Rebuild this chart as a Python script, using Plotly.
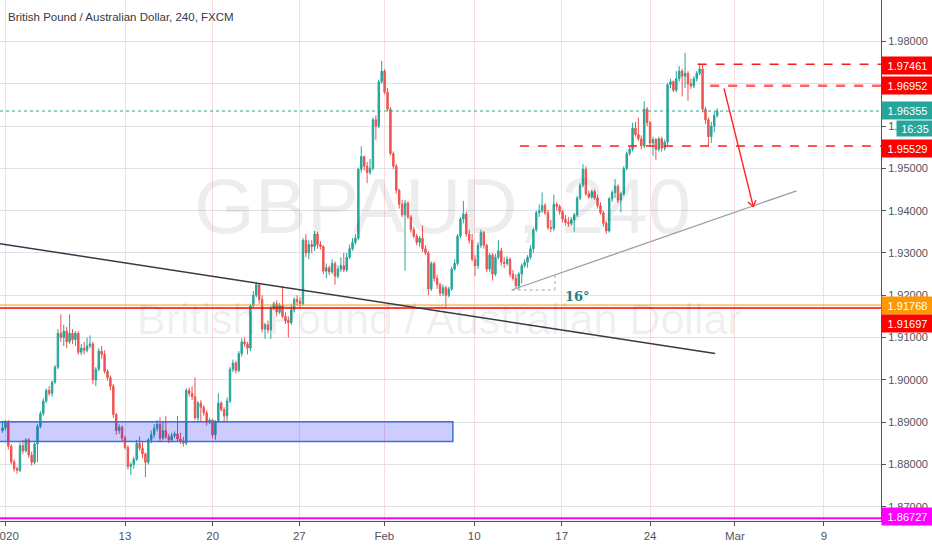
import math
import plotly.graph_objects as go

# ---------------- data (4h candles) ----------------
opens = [1.8880,1.8886,1.8900,1.8843,1.8806,1.8790,1.8786,1.8845,1.8832,1.8858,
1.8822,1.8805,1.8848,1.8890,1.8920,1.8950,1.8975,1.8968,1.8995,1.9030,
1.9110,1.9100,1.9115,1.9090,1.9110,1.9095,1.9110,1.9065,1.9075,1.9070,
1.9080,1.9085,1.9000,1.9025,1.9068,1.9060,1.9020,1.9005,1.8985,1.8918,
1.8880,1.8888,1.8862,1.8840,1.8795,1.8800,1.8812,1.8850,1.8838,1.8825,
1.8805,1.8858,1.8870,1.8885,1.8895,1.8862,1.8880,1.8865,1.8858,1.8868,
1.8872,1.8860,1.8855,1.8850,1.8975,1.8968,1.8960,1.8910,1.8945,1.8935,
1.8922,1.8900,1.8905,1.8870,1.8902,1.8945,1.8930,1.8915,1.8950,1.9025,
1.9040,1.9022,1.9062,1.9090,1.9085,1.9075,1.9175,1.9200,1.9225,1.9190,
1.9120,1.9130,1.9118,1.9170,1.9180,1.9160,1.9175,1.9150,1.9140,1.9135,
1.9165,1.9190,1.9185,1.9180,1.9330,1.9300,1.9320,1.9315,1.9345,1.9320,
1.9315,1.9257,1.9265,1.9255,1.9275,1.9245,1.9262,1.9270,1.9260,1.9290,
1.9310,1.9325,1.9335,1.9498,1.9528,1.9505,1.9490,1.9500,1.9615,1.9600,
1.9705,1.9730,1.9680,1.9640,1.9535,1.9505,1.9448,1.9415,1.9390,1.9418,
1.9385,1.9355,1.9340,1.9325,1.9335,1.9310,1.9300,1.9215,1.9275,1.9240,
1.9225,1.9205,1.9218,1.9200,1.9215,1.9262,1.9275,1.9340,1.9380,1.9392,
1.9345,1.9330,1.9285,1.9270,1.9318,1.9348,1.9318,1.9262,1.9295,1.9250,
1.9290,1.9305,1.9278,1.9275,1.9285,1.9250,1.9240,1.9222,1.9250,1.9270,
1.9278,1.9290,1.9310,1.9355,1.9395,1.9400,1.9412,1.9395,1.9360,1.9358,
1.9415,1.9410,1.9398,1.9380,1.9372,1.9370,1.9378,1.9390,1.9430,1.9460,
1.9498,1.9440,1.9432,1.9445,1.9430,1.9412,1.9395,1.9370,1.9352,1.9428,
1.9443,1.9458,1.9425,1.9440,1.9500,1.9535,1.9545,1.9595,1.9580,1.9570,
1.9553,1.9640,1.9608,1.9560,1.9568,1.9545,1.9570,1.9548,1.9562,1.9698,
1.9705,1.9685,1.9712,1.9730,1.9718,1.9725,1.9700,1.9695,1.9712,1.9725,
1.9735,1.9640,1.9615,1.9575,1.9600,1.9625]
highs = [1.8900,1.8905,1.8905,1.8848,1.8812,1.8795,1.8852,1.8858,1.8862,1.8862,
1.8830,1.8852,1.8895,1.8926,1.8956,1.8980,1.8985,1.8998,1.9035,1.9120,
1.9155,1.9130,1.9125,1.9155,1.9120,1.9115,1.9115,1.9085,1.9090,1.9100,
1.9105,1.9090,1.9030,1.9075,1.9080,1.9070,1.9025,1.9010,1.8990,1.8922,
1.8895,1.8892,1.8868,1.8845,1.8805,1.8818,1.8858,1.8866,1.8855,1.8828,
1.8862,1.8880,1.8895,1.8905,1.8912,1.8900,1.8915,1.8872,1.8875,1.8878,
1.8915,1.8875,1.8865,1.8980,1.8982,1.8985,1.9006,1.8950,1.8952,1.8940,
1.8928,1.8910,1.8908,1.8905,1.8968,1.8950,1.8935,1.8958,1.9030,1.9048,
1.9045,1.9068,1.9098,1.9100,1.9090,1.9180,1.9210,1.9230,1.9228,1.9200,
1.9135,1.9140,1.9175,1.9185,1.9188,1.9182,1.9222,1.9160,1.9150,1.9180,
1.9195,1.9200,1.9195,1.9335,1.9345,1.9330,1.9330,1.9352,1.9350,1.9328,
1.9318,1.9275,1.9270,1.9285,1.9280,1.9270,1.9290,1.9300,1.9300,1.9320,
1.9335,1.9345,1.9502,1.9552,1.9530,1.9515,1.9522,1.9620,1.9625,1.9710,
1.9754,1.9735,1.9690,1.9645,1.9540,1.9510,1.9452,1.9425,1.9425,1.9422,
1.9390,1.9362,1.9345,1.9340,1.9365,1.9318,1.9305,1.9280,1.9280,1.9248,
1.9230,1.9225,1.9222,1.9220,1.9268,1.9285,1.9345,1.9385,1.9423,1.9398,
1.9355,1.9345,1.9295,1.9325,1.9355,1.9352,1.9322,1.9300,1.9300,1.9298,
1.9330,1.9312,1.9290,1.9292,1.9290,1.9260,1.9250,1.9255,1.9275,1.9285,
1.9295,1.9318,1.9360,1.9400,1.9415,1.9443,1.9418,1.9402,1.9378,1.9438,
1.9420,1.9415,1.9402,1.9390,1.9385,1.9385,1.9395,1.9435,1.9465,1.9510,
1.9505,1.9448,1.9450,1.9450,1.9438,1.9420,1.9400,1.9375,1.9432,1.9448,
1.9475,1.9462,1.9445,1.9505,1.9540,1.9552,1.9608,1.9610,1.9620,1.9578,
1.9659,1.9645,1.9612,1.9575,1.9572,1.9575,1.9575,1.9568,1.9702,1.9712,
1.9708,1.9730,1.9742,1.9735,1.9773,1.9730,1.9712,1.9718,1.9730,1.9748,
1.97461,1.9645,1.9620,1.9610,1.9635,1.9642]
lows = [1.8875,1.8880,1.8835,1.8800,1.8783,1.8778,1.8782,1.8825,1.8828,1.8815,
1.8797,1.8800,1.8805,1.8885,1.8915,1.8945,1.8962,1.8960,1.8990,1.9025,
1.9090,1.9080,1.9075,1.9085,1.9085,1.9080,1.9060,1.9058,1.9060,1.9065,
1.9075,1.8990,1.8985,1.9020,1.9050,1.9015,1.8998,1.8975,1.8910,1.8870,
1.8872,1.8855,1.8835,1.8788,1.8775,1.8790,1.8808,1.8832,1.8815,1.8770,
1.8800,1.8850,1.8862,1.8878,1.8855,1.8858,1.8860,1.8850,1.8852,1.8862,
1.8855,1.8848,1.8842,1.8845,1.8960,1.8952,1.8905,1.8900,1.8900,1.8915,
1.8892,1.8895,1.8862,1.8858,1.8898,1.8925,1.8900,1.8900,1.8945,1.9018,
1.9015,1.9018,1.9055,1.9078,1.9060,1.9068,1.9170,1.9195,1.9180,1.9112,
1.9097,1.9110,1.9097,1.9165,1.9150,1.9155,1.9145,1.9132,1.9100,1.9130,
1.9160,1.9175,1.9170,1.9175,1.9290,1.9285,1.9300,1.9305,1.9310,1.9308,
1.9250,1.9240,1.9248,1.9250,1.9225,1.9240,1.9255,1.9255,1.9255,1.9285,
1.9305,1.9320,1.9330,1.9490,1.9495,1.9465,1.9485,1.9495,1.9568,1.9595,
1.9700,1.9675,1.9635,1.9530,1.9498,1.9440,1.9405,1.9385,1.9258,1.9380,
1.9348,1.9335,1.9318,1.9315,1.9302,1.9295,1.9200,1.9210,1.9232,1.9215,
1.9198,1.9198,1.9168,1.9195,1.9210,1.9258,1.9270,1.9335,1.9370,1.9338,
1.9322,1.9280,1.9245,1.9262,1.9312,1.9310,1.9255,1.9255,1.9235,1.9245,
1.9285,1.9270,1.9265,1.9270,1.9243,1.9235,1.9215,1.9213,1.9228,1.9265,
1.9265,1.9285,1.9300,1.9350,1.9385,1.9395,1.9390,1.9355,1.9350,1.9352,
1.9400,1.9390,1.9372,1.9365,1.9362,1.9365,1.9350,1.9385,1.9425,1.9455,
1.9435,1.9428,1.9428,1.9425,1.9405,1.9390,1.9362,1.9345,1.9348,1.9420,
1.9430,1.9418,1.9396,1.9435,1.9495,1.9530,1.9540,1.9575,1.9565,1.9545,
1.9548,1.9600,1.9553,1.9530,1.9520,1.9540,1.9540,1.9542,1.9555,1.9690,
1.9680,1.9680,1.9705,1.9670,1.9690,1.9660,1.9688,1.9690,1.9705,1.9720,
1.9632,1.9605,1.9553,1.9560,1.9585,1.9620]
closes = [1.8886,1.8900,1.8843,1.8806,1.8790,1.8786,1.8845,1.8832,1.8858,1.8822,
1.8805,1.8848,1.8890,1.8920,1.8950,1.8975,1.8968,1.8995,1.9030,1.9110,
1.9100,1.9115,1.9090,1.9110,1.9095,1.9110,1.9065,1.9075,1.9070,1.9080,
1.9085,1.9000,1.9025,1.9068,1.9060,1.9020,1.9005,1.8985,1.8918,1.8880,
1.8888,1.8862,1.8840,1.8795,1.8800,1.8812,1.8850,1.8838,1.8825,1.8805,
1.8858,1.8870,1.8885,1.8895,1.8862,1.8880,1.8865,1.8858,1.8868,1.8872,
1.8860,1.8855,1.8850,1.8975,1.8968,1.8960,1.8910,1.8945,1.8935,1.8922,
1.8900,1.8905,1.8870,1.8902,1.8945,1.8930,1.8915,1.8950,1.9025,1.9040,
1.9022,1.9062,1.9090,1.9085,1.9075,1.9175,1.9200,1.9225,1.9190,1.9120,
1.9130,1.9118,1.9170,1.9180,1.9160,1.9175,1.9150,1.9140,1.9135,1.9165,
1.9190,1.9185,1.9180,1.9330,1.9300,1.9320,1.9315,1.9345,1.9320,1.9315,
1.9257,1.9265,1.9255,1.9275,1.9245,1.9262,1.9270,1.9260,1.9290,1.9310,
1.9325,1.9335,1.9498,1.9528,1.9505,1.9490,1.9500,1.9615,1.9600,1.9705,
1.9730,1.9680,1.9640,1.9535,1.9505,1.9448,1.9415,1.9390,1.9418,1.9385,
1.9355,1.9340,1.9325,1.9335,1.9310,1.9300,1.9215,1.9275,1.9240,1.9225,
1.9205,1.9218,1.9200,1.9215,1.9262,1.9275,1.9340,1.9380,1.9392,1.9345,
1.9330,1.9285,1.9270,1.9318,1.9348,1.9318,1.9262,1.9295,1.9250,1.9290,
1.9305,1.9278,1.9275,1.9285,1.9250,1.9240,1.9222,1.9250,1.9270,1.9278,
1.9290,1.9310,1.9355,1.9395,1.9400,1.9412,1.9395,1.9360,1.9358,1.9415,
1.9410,1.9398,1.9380,1.9372,1.9370,1.9378,1.9390,1.9430,1.9460,1.9498,
1.9440,1.9432,1.9445,1.9430,1.9412,1.9395,1.9370,1.9352,1.9428,1.9443,
1.9458,1.9425,1.9440,1.9500,1.9535,1.9545,1.9595,1.9580,1.9570,1.9553,
1.9640,1.9608,1.9560,1.9568,1.9545,1.9570,1.9548,1.9562,1.9698,1.9705,
1.9685,1.9712,1.9730,1.9718,1.9725,1.9700,1.9695,1.9712,1.9725,1.9735,
1.9640,1.9615,1.9575,1.9600,1.9625,1.96355]
bar_index = list(range(len(closes)))

# x-axis (bar index) ticks
x_tick_pos = [1.2, 42, 72.07, 101.75, 130.9, 161.7, 191.7, 222, 251.1, 281.6]
x_tick_text = ["2020", "13", "20", "27", "Feb", "10", "17", "24", "Mar", "9"]
y_tick_vals = [1.87, 1.88, 1.89, 1.90, 1.91, 1.92, 1.93, 1.94, 1.95, 1.96, 1.97, 1.98]

# drawn levels
last_price = 1.96355
orange_level = 1.91768
red_level = 1.91697
magenta_level = 1.86727
dashed_levels = [1.97461, 1.96952, 1.95529]
dashed_starts = [238.3, 242.6, 177.4]
zone_x = [-3, 154.4]
zone_y = [1.8854, 1.8901]
trend_x = [-0.85, 244.3]
trend_y = [1.9322, 1.9062]
ray_x = [174.57, 272.2]
ray_y = [1.92124, 1.94470]
corner_x = [174.57, 189.4, 189.4]
corner_y = [1.92124, 1.92124, 1.92479]
arrow_x = [247.35, 257.4]
arrow_y = [1.96893, 1.94094]

X_RANGE = [-0.853, 301.17]
Y_RANGE = [1.86662, 1.98981]
PLOT_W, PLOT_H = 881, 521

GREEN = "#26a69a"
RED = "#ef5350"
FONT = "Liberation Sans, Arial, sans-serif"

fig = go.Figure()

fig.add_trace(go.Candlestick(
    x=bar_index, open=opens, high=highs, low=lows, close=closes,
    increasing=dict(line=dict(color=GREEN, width=1), fillcolor=GREEN),
    decreasing=dict(line=dict(color=RED, width=1), fillcolor=RED),
    whiskerwidth=0, showlegend=False, hoverinfo="skip"))

shapes = []
shapes.append(dict(type="rect", xref="x", yref="y", x0=zone_x[0], x1=zone_x[1],
                   y0=zone_y[0], y1=zone_y[1], fillcolor="rgba(0,0,255,0.2)",
                   line=dict(color="#3f6ee0", width=1.5), layer="above"))
shapes.append(dict(type="line", xref="paper", yref="y", x0=0, x1=1, y0=orange_level, y1=orange_level,
                   line=dict(color="#ff9800", width=1)))
shapes.append(dict(type="line", xref="paper", yref="y", x0=0, x1=1, y0=red_level, y1=red_level,
                   line=dict(color="#ff0000", width=1.5)))
shapes.append(dict(type="line", xref="paper", yref="y", x0=0, x1=1, y0=magenta_level, y1=magenta_level,
                   line=dict(color="#ff00ff", width=2)))
shapes.append(dict(type="line", xref="paper", yref="y", x0=0, x1=1, y0=last_price, y1=last_price,
                   line=dict(color=GREEN, width=1, dash="dot")))
dash_styles = [("#ff1a1a", 1.6), ("#ff6262", 2.4), ("#ff1a1a", 1.6)]
for lvl, xs, (col, w) in zip(dashed_levels, dashed_starts, dash_styles):
    shapes.append(dict(type="line", xref="x", yref="y", x0=xs, x1=X_RANGE[1], y0=lvl, y1=lvl,
                       line=dict(color=col, width=w, dash="dash")))
shapes.append(dict(type="line", xref="x", yref="y", x0=trend_x[0], x1=trend_x[1],
                   y0=trend_y[0], y1=trend_y[1], line=dict(color="#363a45", width=1.5)))
shapes.append(dict(type="line", xref="x", yref="y", x0=ray_x[0], x1=ray_x[1],
                   y0=ray_y[0], y1=ray_y[1], line=dict(color="#9b9ea8", width=1.3)))
shapes.append(dict(type="line", xref="x", yref="y", x0=corner_x[0], x1=corner_x[1],
                   y0=corner_y[0], y1=corner_y[1], line=dict(color="#a3a6af", width=1, dash="dot")))
shapes.append(dict(type="line", xref="x", yref="y", x0=corner_x[1], x1=corner_x[2],
                   y0=corner_y[1], y1=corner_y[2], line=dict(color="#a3a6af", width=1, dash="dot")))

# arrow: shaft plus an open "V" head, head computed in screen pixels
sx = PLOT_W / (X_RANGE[1] - X_RANGE[0])
sy = PLOT_H / (Y_RANGE[1] - Y_RANGE[0])
shapes.append(dict(type="line", xref="x", yref="y", x0=arrow_x[0], x1=arrow_x[1],
                   y0=arrow_y[0], y1=arrow_y[1], line=dict(color="#ff2020", width=1.4)))
dxp = (arrow_x[1] - arrow_x[0]) * sx
dyp = (arrow_y[1] - arrow_y[0]) * sy
ang = math.atan2(dyp, dxp)
for da in (math.radians(35), -math.radians(35)):
    a = ang + math.pi + da
    hx = arrow_x[1] + 7 * math.cos(a) / sx
    hy = arrow_y[1] + 7 * math.sin(a) / sy
    shapes.append(dict(type="line", xref="x", yref="y", x0=arrow_x[1], x1=hx,
                       y0=arrow_y[1], y1=hy, line=dict(color="#ff2020", width=1.4)))

annotations = []
annotations.append(dict(text="GBPAUD, 240", xref="paper", yref="paper", x=442 / PLOT_W, y=1 - 206 / PLOT_H,
                        showarrow=False, font=dict(family=FONT, size=78, color="rgba(0,0,0,0.072)")))
annotations.append(dict(text="British Pound / Australian Dollar", xref="paper", yref="paper",
                        x=439 / PLOT_W, y=1 - 319 / PLOT_H, showarrow=False,
                        font=dict(family=FONT, size=43, color="rgba(0,0,0,0.072)")))
annotations.append(dict(text="British Pound / Australian Dollar, 240, FXCM", xref="paper", yref="paper",
                        x=0, y=1, xanchor="left", yanchor="middle", xshift=6, yshift=-16.5,
                        showarrow=False, font=dict(family=FONT, size=11.5, color="#363a45")))
annotations.append(dict(text="<b>16°</b>", xref="x", yref="y", x=192.3, y=1.9198, xanchor="left",
                        yanchor="middle", showarrow=False,
                        font=dict(family="DejaVu Serif", size=13, color="#1f7d86")))
labels = [
    (1.97461, "1.97461", "#ff0000", -1.5),
    (1.96952, "1.96952", "#ff0000", 0.5),
    (last_price, "1.96355", GREEN, 0.5),
    (1.95529, "1.95529", "#ff0000", -3),
    (orange_level, "1.91768", "#ff9800", 0),
    (red_level, "1.91697", "#ff0000", -15),
    (magenta_level, "1.86727", "#ff00ff", 2),
]
for lvl, txt, col, ys in labels:
    annotations.append(dict(text=txt, xref="paper", yref="y", x=1, y=lvl, xanchor="left",
                            yanchor="middle", yshift=ys, showarrow=False, bgcolor=col,
                            width=47, height=13, borderpad=2, align="center",
                            font=dict(family=FONT, size=11, color="white")))
annotations.append(dict(text="16:35", xref="paper", yref="y", x=1, y=last_price, xanchor="left",
                        yanchor="middle", xshift=15, yshift=-17.5, showarrow=False, bgcolor=GREEN,
                        width=32, height=11, borderpad=2, align="center",
                        font=dict(family=FONT, size=11, color="white")))

fig.update_layout(
    width=932, height=550, margin=dict(l=0, r=51, t=0, b=29, autoexpand=False),
    paper_bgcolor="white", plot_bgcolor="white",
    shapes=shapes, annotations=annotations, showlegend=False,
    font=dict(family=FONT, size=11, color="#50535e"),
    xaxis=dict(range=X_RANGE, rangeslider=dict(visible=False), tickmode="array",
               tickvals=x_tick_pos, ticktext=x_tick_text, showgrid=True, gridcolor="#f9dcdc",
               gridwidth=1, zeroline=False, showline=True, linecolor="#50535e", linewidth=1,
               ticks="outside", ticklen=4, tickcolor="#50535e", ticklabeloverflow="allow",
               automargin=False, tickfont=dict(family=FONT, size=11.5, color="#50535e")),
    yaxis=dict(range=Y_RANGE, side="right", tickmode="array", tickvals=y_tick_vals,
               tickformat=".5f", showgrid=True, gridcolor="#dfe1e8", gridwidth=1, zeroline=False,
               showline=True, linecolor="#50535e", linewidth=1, ticks="outside", ticklen=4,
               tickcolor="#50535e", automargin=False,
               tickfont=dict(family=FONT, size=11, color="#50535e")),
)

fig.write_html("out.html", config={"displayModeBar": False},
               post_script="document.body.style.margin='0';document.body.style.overflow='hidden';")
